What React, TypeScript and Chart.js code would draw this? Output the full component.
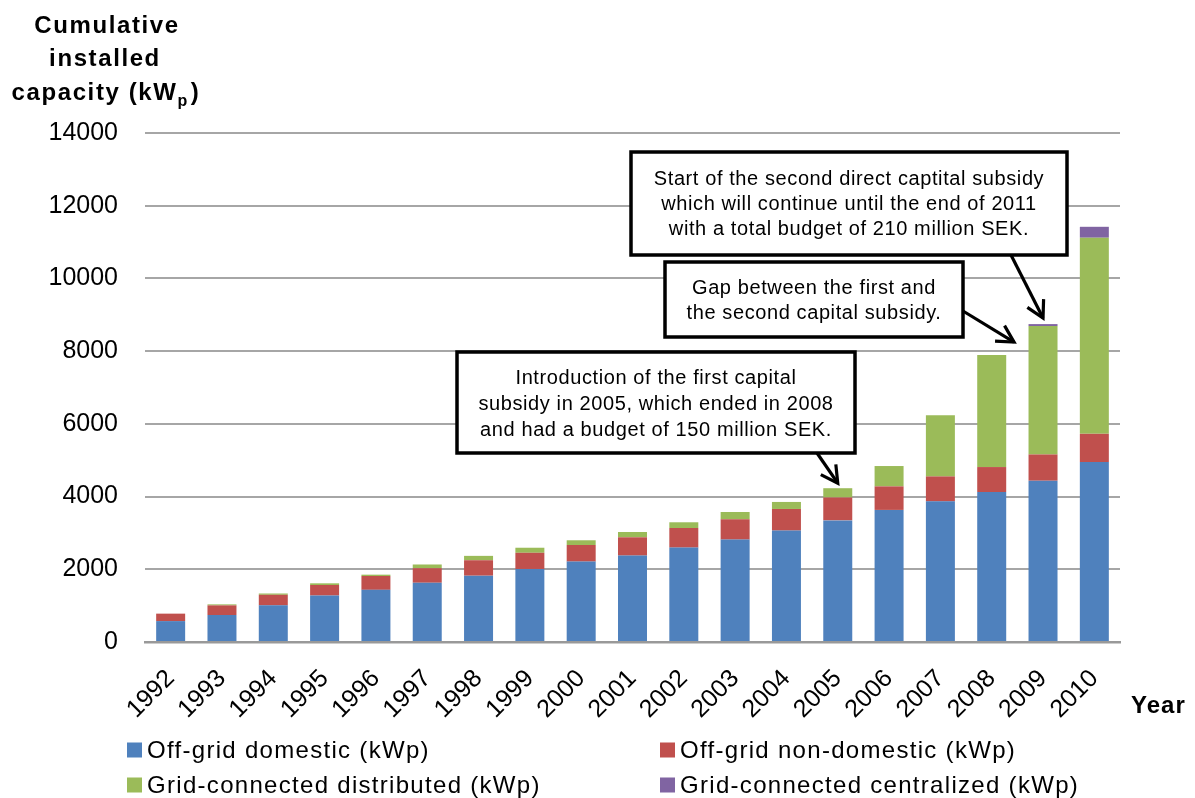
import React, { useEffect, useRef } from "react";
import { Chart, registerables } from "chart.js";

Chart.register(...registerables);

const years = ["1992","1993","1994","1995","1996","1997","1998","1999","2000","2001","2002","2003","2004","2005","2006","2007","2008","2009","2010"];
const offGridDomestic = [575, 742, 1008, 1278, 1435, 1630, 1824, 2009, 2212, 2377, 2597, 2817, 3065, 3345, 3633, 3868, 4126, 4436, 4949];
const offGridNonDomestic = [205, 265, 290, 290, 380, 400, 425, 445, 456, 503, 539, 559, 594, 630, 647, 686, 686, 722, 777];
const gridDistributed = [0, 28, 36, 46, 37, 102, 120, 139, 130, 146, 157, 200, 193, 255, 560, 1685, 3081, 3531, 5394];
const gridCentralized = [0, 0, 0, 0, 0, 0, 0, 0, 0, 0, 0, 0, 0, 0, 0, 0, 0, 55, 300];

const seriesNames = [
  "Off-grid domestic (kWp)",
  "Off-grid non-domestic (kWp)",
  "Grid-connected distributed (kWp)",
  "Grid-connected centralized (kWp)",
];
const seriesColors = ["#4F81BD", "#C0504D", "#9BBB59", "#8064A2"];
const yTicks = [0, 2000, 4000, 6000, 8000, 10000, 12000, 14000];

const annotationTexts = [
  ["Introduction of the first capital", "subsidy in 2005, which ended in 2008", "and had a budget of 150 million SEK."],
  ["Gap between the first and", "the second capital subsidy."],
  ["Start of the second direct captital subsidy", "which will continue until the end of 2011", "with a total budget of 210 million SEK."],
];

const FONT = '"Liberation Sans", Arial, Helvetica, sans-serif';

export default function App() {
  const ref = useRef<HTMLCanvasElement | null>(null);

  useEffect(() => {
    if (!ref.current) return;
    const totals = years.map((_, i) => offGridDomestic[i] + offGridNonDomestic[i] + gridDistributed[i] + gridCentralized[i]);

    // layout of annotation boxes (pixels) and arrow targets (data indices)
    const annots = [
      { lines: annotationTexts[0], box: [457, 352, 855, 453], from: [817, 453], idx: 13, dx: 0, dy: -5, lineY: [378, 404, 430] },
      { lines: annotationTexts[1], box: [665, 262, 963, 337], from: [963, 311], idx: 17, dx: -29, dy: 18, lineY: [288, 313] },
      { lines: annotationTexts[2], box: [631, 152, 1067, 255], from: [1011, 255], idx: 17, dx: 0, dy: -6, lineY: [179, 204, 229] },
    ];

    const drawArrow = (ctx: CanvasRenderingContext2D, x1: number, y1: number, x2: number, y2: number) => {
      const ang = Math.atan2(y2 - y1, x2 - x1);
      const len = 19;
      const spread = 0.5;
      ctx.save();
      ctx.strokeStyle = "#000";
      ctx.lineWidth = 3.2;
      ctx.lineCap = "butt";
      ctx.lineJoin = "miter";
      ctx.beginPath();
      ctx.moveTo(x1, y1);
      ctx.lineTo(x2, y2);
      ctx.stroke();
      ctx.beginPath();
      ctx.moveTo(x2 - len * Math.cos(ang - spread), y2 - len * Math.sin(ang - spread));
      ctx.lineTo(x2, y2);
      ctx.lineTo(x2 - len * Math.cos(ang + spread), y2 - len * Math.sin(ang + spread));
      ctx.stroke();
      ctx.restore();
    };

    const decor = {
      id: "decor",
      afterDraw(chart: any) {
        const ctx: CanvasRenderingContext2D = chart.ctx;
        const xs = chart.scales.x;
        const ys = chart.scales.y;
        ctx.save();
        // Y axis title
        ctx.fillStyle = "#000";
        ctx.font = `bold 24px ${FONT}`;
        (ctx as any).letterSpacing = "1.6px";
        ctx.textAlign = "center";
        ctx.textBaseline = "alphabetic";
        ctx.fillText("Cumulative", 107, 33);
        ctx.fillText("installed", 105, 66);
        // capacity (kWp) with subscript
        const main = "capacity (kW";
        const wMain = ctx.measureText(main).width;
        ctx.font = `bold 16px ${FONT}`;
        const wSub = ctx.measureText("p").width;
        ctx.font = `bold 24px ${FONT}`;
        const wClose = ctx.measureText(")").width;
        const total = wMain + wSub + wClose + 2;
        let sx = 106 - total / 2;
        ctx.textAlign = "left";
        ctx.fillText(main, sx, 100);
        sx += wMain;
        ctx.font = `bold 16px ${FONT}`;
        ctx.fillText("p", sx, 106);
        sx += wSub + 2;
        ctx.font = `bold 24px ${FONT}`;
        ctx.fillText(")", sx, 100);
        // Year
        (ctx as any).letterSpacing = "1px";
        ctx.textAlign = "left";
        ctx.fillText("Year", 1131, 713);

        // Legend
        ctx.font = `24px ${FONT}`;
        (ctx as any).letterSpacing = "1.3px";
        ctx.textBaseline = "middle";
        const legendPos = [
          [127, 750],
          [660, 750],
          [127, 785],
          [660, 785],
        ];
        seriesNames.forEach((name, i) => {
          const [lx, ly] = legendPos[i];
          ctx.fillStyle = seriesColors[i];
          ctx.fillRect(lx, ly - 7.5, 15, 15);
          ctx.fillStyle = "#000";
          ctx.fillText(name, lx + 20, ly + 1);
        });

        // Annotations
        annots.forEach((a) => {
          const [bx1, by1, bx2, by2] = a.box;
          const tx = xs.getPixelForValue(a.idx) + a.dx;
          const ty = ys.getPixelForValue(totals[a.idx]) + a.dy;
          drawArrow(ctx, a.from[0], a.from[1], tx, ty);
          ctx.fillStyle = "#fff";
          ctx.fillRect(bx1, by1, bx2 - bx1, by2 - by1);
          ctx.strokeStyle = "#000";
          ctx.lineWidth = 3.5;
          ctx.strokeRect(bx1, by1, bx2 - bx1, by2 - by1);
          ctx.fillStyle = "#000";
          ctx.font = `20px ${FONT}`;
          (ctx as any).letterSpacing = "0.6px";
          ctx.textAlign = "center";
          ctx.textBaseline = "middle";
          a.lines.forEach((t, k) => {
            ctx.fillText(t, (bx1 + bx2) / 2, a.lineY[k]);
          });
        });
        (ctx as any).letterSpacing = "0px";
        ctx.restore();
      },
    };

    const chart = new Chart(ref.current, {
      type: "bar",
      data: {
        labels: years,
        datasets: [offGridDomestic, offGridNonDomestic, gridDistributed, gridCentralized].map((d, i) => ({
          label: seriesNames[i],
          data: d,
          backgroundColor: seriesColors[i],
          borderWidth: 0,
          categoryPercentage: 1,
          barPercentage: 0.565,
        })),
      },
      options: {
        responsive: false,
        animation: false,
        layout: { padding: { top: 133, right: 75, left: 0, bottom: 0 } },
        plugins: {
          legend: { display: false },
          tooltip: { enabled: false },
          title: { display: false },
        },
        scales: {
          x: {
            stacked: true,
            grid: { display: false, drawTicks: false },
            border: { display: true, color: "#999", width: 2.5 },
            ticks: {
              color: "#000",
              font: { family: FONT, size: 25 },
              maxRotation: 45,
              minRotation: 45,
              padding: 22,
              autoSkip: false,
            },
            afterFit: (s: any) => {
              s.height = 156;
            },
          },
          y: {
            stacked: true,
            min: 0,
            max: 14000,
            afterBuildTicks: (s: any) => {
              s.ticks = yTicks.map((v) => ({ value: v }));
            },
            grid: { color: "#a6a6a6", lineWidth: 2, drawTicks: false },
            border: { display: false },
            ticks: {
              color: "#000",
              font: { family: FONT, size: 25 },
              padding: 27,
              callback: (v: any) => String(v),
            },
            afterFit: (s: any) => {
              s.width = 145;
            },
          },
        },
      },
      plugins: [decor],
    });
    return () => chart.destroy();
  }, []);

  return (
    <div style={{ position: "absolute", left: 0, top: 0, width: 1195, height: 798, background: "#fff" }}>
      <canvas ref={ref} width={1195} height={798} style={{ width: 1195, height: 798, display: "block" }} />
    </div>
  );
}
